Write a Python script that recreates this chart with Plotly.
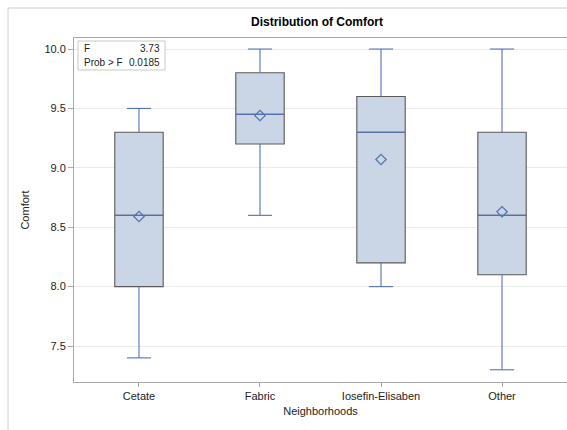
import plotly.graph_objects as go

# Comfort scores by neighborhood: five-number summary plus mean
categories = ["Cetate", "Fabric", "Iosefin-Elisaben", "Other"]
lower = [7.4, 8.6, 8.0, 7.3]
q1 = [8.0, 9.2, 8.2, 8.1]
median = [8.6, 9.45, 9.3, 8.6]
q3 = [9.3, 9.8, 9.6, 9.3]
upper = [9.5, 10.0, 10.0, 10.0]
mean = [8.59, 9.44, 9.07, 8.63]
f_value = "3.73"
p_value = "0.0185"

W, H = 567, 430
ML, MT, MB, MR = 74, 38, 48, 0
PW, PH = W - ML - MR, H - MT - MB

FILL = "#CAD5E6"
BLUE = "#5272B6"
EDGE = "#5A5A5A"
FONT = "Liberation Sans, Arial, sans-serif"

xs = list(range(len(categories)))
box_w = 0.40
cap = box_w / 4

fig = go.Figure()

# box bodies only (gray outline); whiskers are drawn separately in blue
fig.add_trace(go.Box(
    x=xs, q1=q1, median=median, q3=q3, lowerfence=q1, upperfence=q3,
    width=box_w, whiskerwidth=0, fillcolor=FILL,
    line=dict(color=EDGE, width=1.1), boxpoints=False, hoverinfo="skip",
    showlegend=False,
))

# whiskers, caps and medians in blue
wx, wy = [], []
for i in xs:
    wx += [i, i, None, i, i, None]
    wy += [q3[i], upper[i], None, q1[i], lower[i], None]
    wx += [i - cap, i + cap, None, i - cap, i + cap, None]
    wy += [upper[i], upper[i], None, lower[i], lower[i], None]
    wx += [i - box_w / 2 + 0.004, i + box_w / 2 - 0.004, None]
    wy += [median[i], median[i], None]
fig.add_trace(go.Scatter(x=wx, y=wy, mode="lines",
                         line=dict(color=BLUE, width=1.1),
                         hoverinfo="skip", showlegend=False))

# means
fig.add_trace(go.Scatter(x=xs, y=mean, mode="markers",
                         marker=dict(symbol="diamond-open", size=8,
                                     color=BLUE, line=dict(width=1.2)),
                         showlegend=False))

def px_x(p):
    return (p - ML) / PW

def px_y(p):
    return 1 - (p - MT) / PH

# outer frame (left and top edges)
fig.add_shape(type="line", xref="paper", yref="paper",
              x0=px_x(8), x1=px_x(W + 5), y0=px_y(8), y1=px_y(8),
              line=dict(color="#D0D0D0", width=1))
fig.add_shape(type="line", xref="paper", yref="paper",
              x0=px_x(8), x1=px_x(8), y0=px_y(8), y1=px_y(H + 5),
              line=dict(color="#D0D0D0", width=1))

# statistics inset
fig.add_shape(type="rect", xref="paper", yref="paper",
              x0=px_x(78), x1=px_x(165), y0=px_y(41), y1=px_y(70),
              line=dict(color="#C8C8C8", width=1), fillcolor="white")
stat_font = dict(family=FONT, size=10, color="#222")
for txt, xp, yp, anc in [("F", 82, 48.5, "left"), (f_value, 162, 48.5, "right"),
                         ("Prob > F", 82, 62, "left"), (p_value, 162, 62, "right")]:
    fig.add_annotation(text=txt, xref="paper", yref="paper",
                       x=px_x(xp), y=px_y(yp), xanchor=anc, yanchor="middle",
                       showarrow=False, font=stat_font)

fig.update_layout(
    width=W, height=H,
    margin=dict(l=ML, r=MR, t=MT, b=MB),
    paper_bgcolor="white", plot_bgcolor="white",
    font=dict(family=FONT, size=11, color="#222"),
    title=dict(text="<b>Distribution of Comfort</b>", x=317 / W, xanchor="center",
               y=1 - 22 / H, yanchor="middle",
               font=dict(family=FONT, size=12, color="#000")),
    xaxis=dict(
        range=[-0.537, 3.537], tickmode="array", tickvals=xs, ticktext=categories,
        showgrid=False, zeroline=False, showline=True, linecolor="#A8A8A8",
        linewidth=1, mirror=True, ticks="outside", ticklen=4, tickcolor="#A8A8A8",
        tickfont=dict(size=11, color="#222"),
        title=dict(text="Neighborhoods", standoff=6, font=dict(size=11, color="#222")),
    ),
    yaxis=dict(
        range=[7.197, 10.093], tickmode="array",
        tickvals=[7.5, 8.0, 8.5, 9.0, 9.5, 10.0],
        ticktext=["7.5", "8.0", "8.5", "9.0", "9.5", "10.0"],
        showgrid=True, gridcolor="#EBEBEB", gridwidth=1, zeroline=False,
        showline=True, linecolor="#A8A8A8", linewidth=1,
        ticks="outside", ticklen=5, tickcolor="#A8A8A8",
        tickfont=dict(size=11, color="#222"),
        title=dict(text="Comfort", standoff=12, font=dict(size=11, color="#222")),
    ),
)

fig.write_html("out.html")
